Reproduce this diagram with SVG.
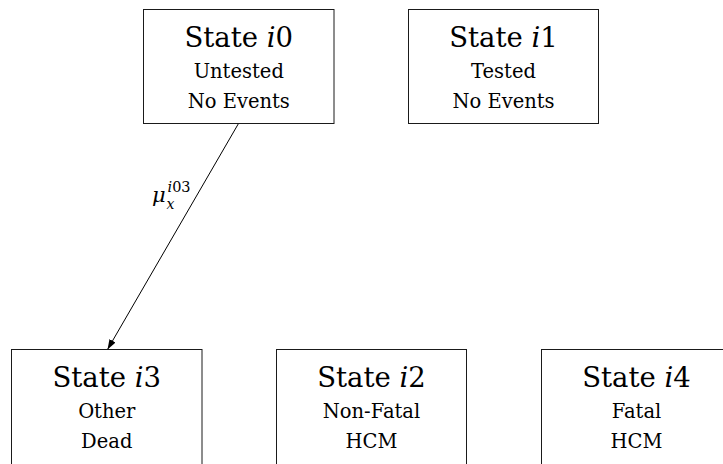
<svg xmlns="http://www.w3.org/2000/svg" width="723" height="464" viewBox="0 0 723 464">
  <style>
    text { font-family: "DejaVu Serif", serif; fill: #000; }
    .box { fill: #ffffff; stroke: #1a1a1a; stroke-width: 1; }
    .title { font-size: 27.5px; text-anchor: middle; }
    .sub { font-size: 19.5px; text-anchor: middle; }
    .it { font-style: italic; }
    .edge { stroke: #000; stroke-width: 1; fill: none; }
    .lbl { font-style: italic; }
  </style>
  <defs>
    <marker id="arrow" viewBox="0 0 10 7" refX="10" refY="3.5" markerWidth="10" markerHeight="7" markerUnits="userSpaceOnUse" orient="auto">
      <path d="M0,0 L10,3.5 L0,7 Z" fill="#000"/>
    </marker>
  </defs>

  <rect width="723" height="464" fill="#ffffff"/>

  <!-- transitions -->
  <g id="connectors">
    <line class="edge" x1="238.5" y1="123.5" x2="107.5" y2="349.5" marker-end="url(#arrow)"/>
    <text class="lbl" x="152" y="202" font-size="21px">μ</text>
    <text class="lbl" x="167.5" y="192" font-size="14.5px">i<tspan font-style="normal">03</tspan></text>
    <text class="lbl" x="166.5" y="209" font-size="14px">x</text>
  </g>

  <g id="state-i0">
    <rect class="box" x="143.5" y="9.5" width="190.5" height="114"/>
    <text class="title" x="238.75" y="47">State <tspan class="it">i</tspan>0</text>
    <text class="sub" x="238.75" y="78">Untested</text>
    <text class="sub" x="238.75" y="108">No Events</text>
  </g>

  <g id="state-i1">
    <rect class="box" x="408.5" y="9.5" width="190" height="114"/>
    <text class="title" x="503.5" y="47">State <tspan class="it">i</tspan>1</text>
    <text class="sub" x="503.5" y="78">Tested</text>
    <text class="sub" x="503.5" y="108">No Events</text>
  </g>

  <g id="state-i3">
    <rect class="box" x="11.5" y="349.5" width="190.5" height="130"/>
    <text class="title" x="106.75" y="387">State <tspan class="it">i</tspan>3</text>
    <text class="sub" x="106.75" y="418">Other</text>
    <text class="sub" x="106.75" y="448">Dead</text>
  </g>

  <g id="state-i2">
    <rect class="box" x="276.5" y="349.5" width="190" height="130"/>
    <text class="title" x="371.5" y="387">State <tspan class="it">i</tspan>2</text>
    <text class="sub" x="371.5" y="418">Non-Fatal</text>
    <text class="sub" x="371.5" y="448">HCM</text>
  </g>

  <g id="state-i4">
    <rect class="box" x="541.5" y="349.5" width="190" height="130"/>
    <text class="title" x="636.5" y="387">State <tspan class="it">i</tspan>4</text>
    <text class="sub" x="636.5" y="418">Fatal</text>
    <text class="sub" x="636.5" y="448">HCM</text>
  </g>
</svg>
